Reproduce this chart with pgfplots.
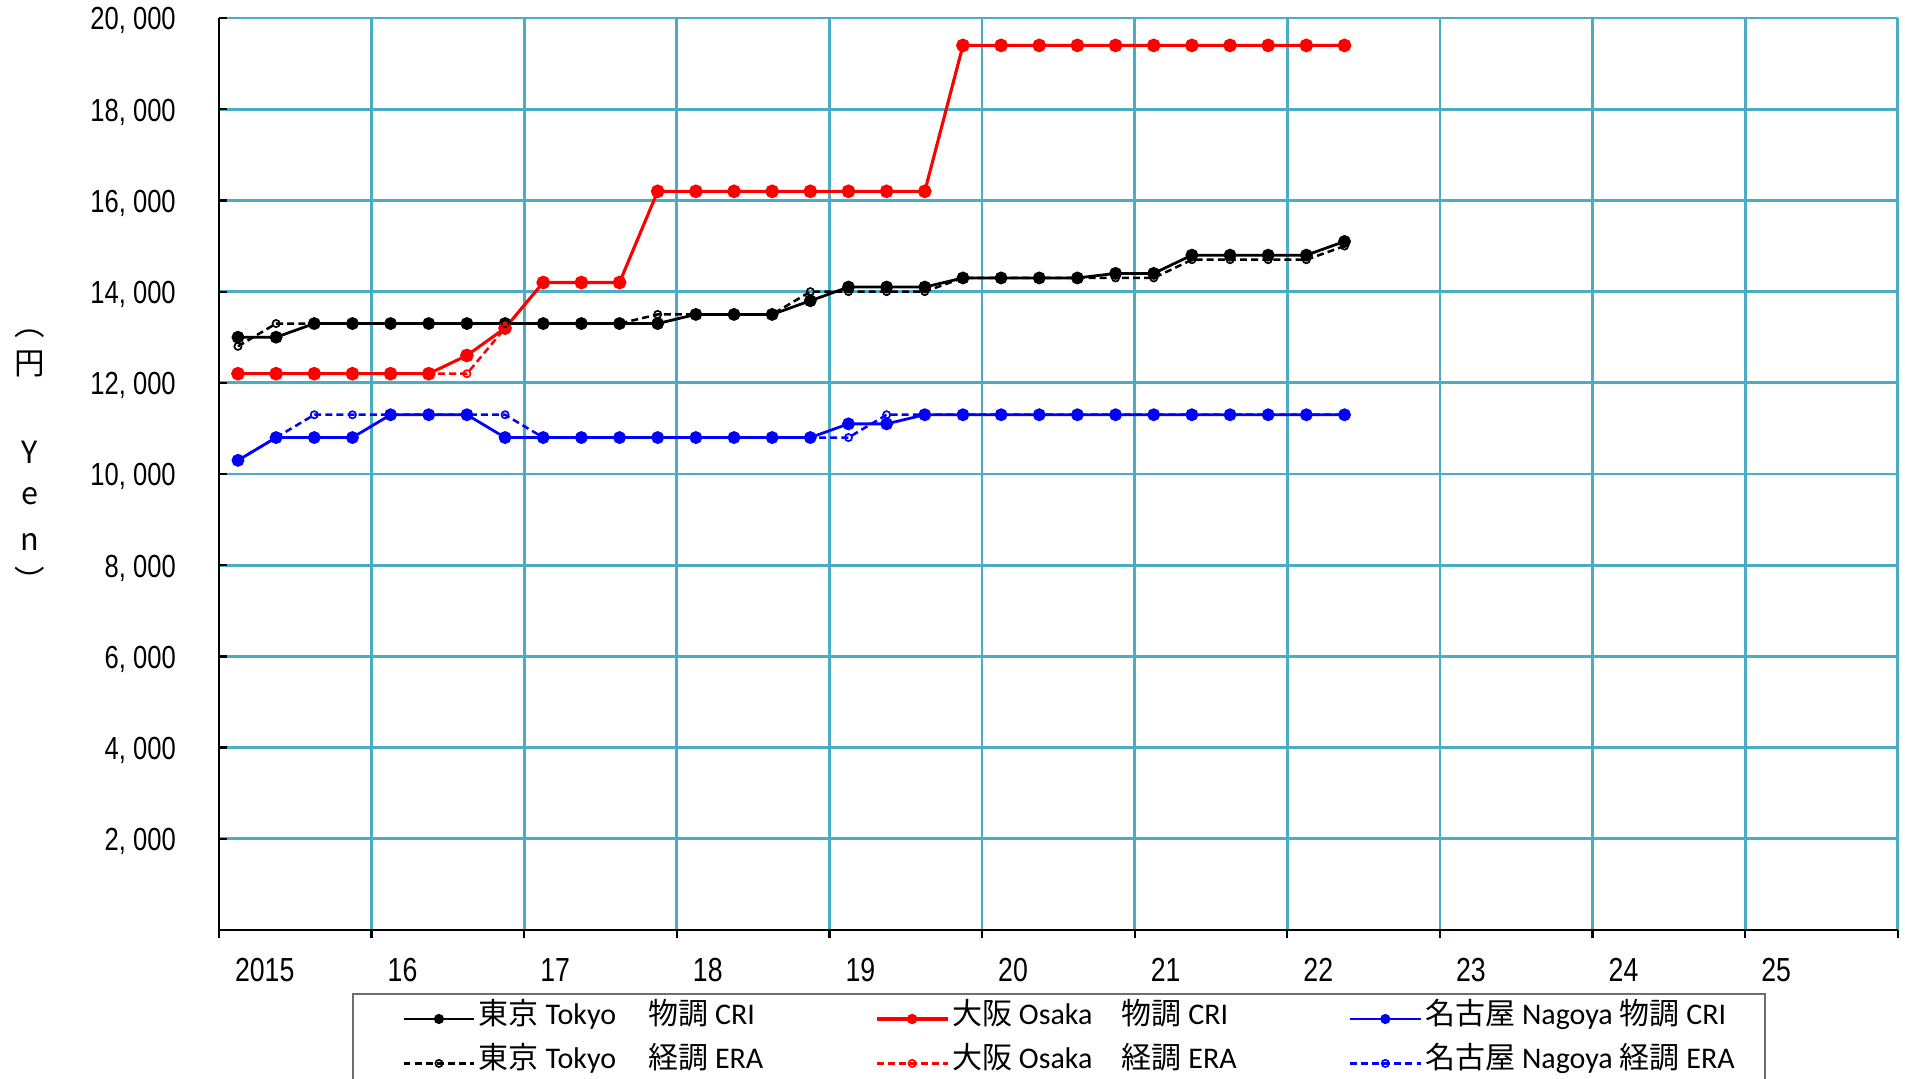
\documentclass[border=0pt]{standalone}
\usepackage{fontspec}
\setmainfont{Carlito}
\newfontfamily\cjk{Noto Sans CJK JP}
\newfontfamily\narrow[FakeStretch=0.8]{Liberation Sans}
\newfontfamily\gothic[FakeStretch=0.8]{Liberation Sans}
\usepackage{pgfplots}
\pgfplotsset{compat=1.18}
\usepackage{pgfplotstable}

\definecolor{gridblue}{RGB}{75,172,198}
\definecolor{cred}{RGB}{255,0,0}
\definecolor{cblue}{RGB}{0,0,255}
\definecolor{legframe}{RGB}{110,110,110}

% quarterly values, yen
\pgfplotstableread{
x        tcri  tera  ocri  oera  ncri  nera
2015.125 13000 12800 12200 12200 10300 10300
2015.375 13000 13300 12200 12200 10800 10800
2015.625 13300 13300 12200 12200 10800 11300
2015.875 13300 13300 12200 12200 10800 11300
2016.125 13300 13300 12200 12200 11300 11300
2016.375 13300 13300 12200 12200 11300 11300
2016.625 13300 13300 12600 12200 11300 11300
2016.875 13300 13300 13200 13200 10800 11300
2017.125 13300 13300 14200 14200 10800 10800
2017.375 13300 13300 14200 14200 10800 10800
2017.625 13300 13300 14200 14200 10800 10800
2017.875 13300 13500 16200 16200 10800 10800
2018.125 13500 13500 16200 16200 10800 10800
2018.375 13500 13500 16200 16200 10800 10800
2018.625 13500 13500 16200 16200 10800 10800
2018.875 13800 14000 16200 16200 10800 10800
2019.125 14100 14000 16200 16200 11100 10800
2019.375 14100 14000 16200 16200 11100 11300
2019.625 14100 14000 16200 16200 11300 11300
2019.875 14300 14300 19400 19400 11300 11300
2020.125 14300 14300 19400 19400 11300 11300
2020.375 14300 14300 19400 19400 11300 11300
2020.625 14300 14300 19400 19400 11300 11300
2020.875 14400 14300 19400 19400 11300 11300
2021.125 14400 14300 19400 19400 11300 11300
2021.375 14800 14700 19400 19400 11300 11300
2021.625 14800 14700 19400 19400 11300 11300
2021.875 14800 14700 19400 19400 11300 11300
2022.125 14800 14700 19400 19400 11300 11300
2022.375 15100 15000 19400 19400 11300 11300
}\prices

\newcommand{\nm}[1]{\makebox[61pt][l]{#1}}

\begin{document}
\begin{tikzpicture}
\useasboundingbox (0,0) rectangle (685.8pt,388.1pt);
\begin{axis}[
  at={(78.8pt,53.3pt)}, anchor=south west,
  scale only axis,
  width=604.4pt, height=328.3pt,
  xmin=2015, xmax=2026,
  ymin=0, ymax=20000,
  xtick={2015,2016,...,2026},
  xticklabels={2015,16,17,18,19,20,21,22,23,24,25,{}},
  ytick={2000,4000,...,20000},
  yticklabels={{2, 000},{4, 000},{6, 000},{8, 000},{10, 000},{12, 000},{14, 000},{16, 000},{18, 000},{20, 000}},
  axis x line*=bottom, axis y line*=left,
  axis line style={-, black, line width=0.8pt},
  xtick align=outside, ytick align=inside,
  major tick length=3pt,
  tick style={black, line width=0.8pt},
  grid=major,
  major grid style={gridblue, line width=1pt},
  xticklabel style={font=\narrow\fontsize{12}{12}\selectfont, anchor=north west, xshift=2.3pt, yshift=-3.6pt},
  yticklabel style={font=\gothic\fontsize{11.5}{11.5}\selectfont, inner ysep=0pt, xshift=-12pt, yshift=-1pt},
  legend columns=3,
  legend cell align=left,
  legend style={at={(0.0793,-0.0691)}, anchor=north west,
    draw=legframe, line width=0.7pt,
    font=\fontsize{10.8}{13}\selectfont,
    inner xsep=17.7pt, inner ysep=1pt,
    /tikz/column sep=0pt,
    nodes={inner xsep=1.1pt, inner ysep=2pt, text height=8pt, text depth=4pt}},
  legend image code/.code={\draw[mark repeat=2, mark phase=2, #1] plot coordinates {(0pt,0pt)(12.75pt,0pt)(25.5pt,0pt)};},
  legend image post style={mark size=1.3pt},
]
\addplot[black, line width=1pt, mark=*, mark size=1.8pt] table[x=x, y=tcri] {\prices};
\addlegendentry{\makebox[141.6pt][l]{\nm{{\cjk 東京} Tokyo}{\cjk 物調} CRI}}
\addplot[cred, line width=1.1pt, mark=*, mark size=1.9pt] table[x=x, y=ocri] {\prices};
\addlegendentry{\makebox[141.6pt][l]{\nm{{\cjk 大阪} Osaka}{\cjk 物調} CRI}}
\addplot[cblue, line width=1pt, mark=*, mark size=1.8pt] table[x=x, y=ncri] {\prices};
\addlegendentry{\makebox[103.5pt][l]{{\cjk 名古屋} Nagoya {\cjk 物調} CRI}}
\addplot[black, line width=0.9pt, dash pattern=on 2.5pt off 1.5pt, mark=o, mark size=1.3pt, mark options={solid, line width=0.6pt}] table[x=x, y=tera] {\prices};
\addlegendentry{\makebox[141.6pt][l]{\nm{{\cjk 東京} Tokyo}{\cjk 経調} ERA}}
\addplot[cred, line width=0.9pt, dash pattern=on 2.5pt off 1.5pt, mark=o, mark size=1.3pt, mark options={solid, line width=0.6pt}] table[x=x, y=oera] {\prices};
\addlegendentry{\makebox[141.6pt][l]{\nm{{\cjk 大阪} Osaka}{\cjk 経調} ERA}}
\addplot[cblue, line width=0.9pt, dash pattern=on 2.5pt off 1.5pt, mark=o, mark size=1.3pt, mark options={solid, line width=0.6pt}] table[x=x, y=nera] {\prices};
\addlegendentry{\makebox[103.5pt][l]{{\cjk 名古屋} Nagoya {\cjk 経調} ERA}}
\end{axis}
\begin{scope}[every node/.style={font=\cjk\fontsize{11}{11}\selectfont, inner sep=0pt}]
\node at (10.8pt,267.8pt) {︵};
\node at (10.8pt,257.0pt) {円};
\node at (10.8pt,225.4pt) {Y};
\node at (10.8pt,209.5pt) {e};
\node at (10.8pt,193.0pt) {n};
\node at (10.8pt,179.5pt) {︶};
\end{scope}
\end{tikzpicture}
\end{document}
